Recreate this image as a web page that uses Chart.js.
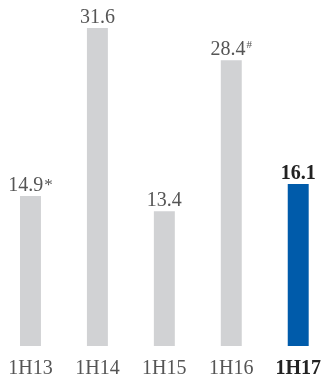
<!DOCTYPE html>
<html>
<head>
<meta charset="utf-8">
<script src="https://cdn.jsdelivr.net/npm/chart.js@4/dist/chart.umd.min.js"></script>
<style>
  html, body { margin: 0; padding: 0; background: #fff; overflow: hidden; }
  #wrap { position: relative; width: 335px; height: 377px; margin-left: -3px; }
</style>
</head>
<body>
<div id="wrap"><canvas id="myChart"></canvas></div>
<script>
const periods = ['1H13', '1H14', '1H15', '1H16', '1H17']
const values = [14.9, 31.6, 13.4, 28.4, 16.1]
const notes = ['*', '', '', '#', '']
const barColors = ['#d1d2d4', '#d1d2d4', '#d1d2d4', '#d1d2d4', '#005baa']
const FONT = '"Liberation Serif", serif'
const last = periods.length - 1

// value labels above bars, with the footnote marks
const valueLabels = {
  id: 'valueLabels',
  afterDatasetsDraw(chart) {
    const c = chart.ctx
    const meta = chart.getDatasetMeta(0)
    meta.data.forEach((bar, i) => {
      const bold = i === last
      const main = values[i].toFixed(1)
      c.save()
      c.textBaseline = 'alphabetic'
      c.fillStyle = bold ? '#222' : '#555'
      c.font = (bold ? 'bold ' : '') + '20px ' + FONT
      const w1 = c.measureText(main).width
      let w2 = 0
      const sup = notes[i] === '#'
      const noteFont = (sup ? '11px ' : '17px ') + FONT
      if (notes[i]) {
        c.font = noteFont
        w2 = c.measureText(notes[i]).width + 1
      }
      const x0 = bar.x - (w1 + w2) / 2
      const y = bar.y - 5
      c.font = (bold ? 'bold ' : '') + '20px ' + FONT
      c.textAlign = 'left'
      c.fillText(main, x0, y)
      if (notes[i]) {
        c.font = noteFont
        c.fillText(notes[i], x0 + w1 + 1, sup ? y - 7 : y - 1)
      }
      c.restore()
    })
  }
}

new Chart(document.getElementById('myChart'), {
  type: 'bar',
  data: {
    labels: periods,
    datasets: [{
      data: values,
      backgroundColor: barColors,
      borderWidth: 0,
      barPercentage: 0.313,
      categoryPercentage: 1
    }]
  },
  options: {
    responsive: true,
    maintainAspectRatio: false,
    animation: false,
    layout: { padding: 0 },
    scales: {
      x: {
        grid: { display: false, drawTicks: false },
        border: { display: false },
        ticks: {
          padding: 11,
          color: ctx => ctx.index === last ? '#222' : '#555',
          font: ctx => ({ family: FONT, size: 20, weight: ctx.index === last ? 'bold' : 'normal' })
        },
        afterFit: scale => { scale.height = 31 }
      },
      y: {
        display: false,
        min: 0,
        max: 34.38
      }
    },
    plugins: {
      legend: { display: false },
      tooltip: { enabled: false }
    }
  },
  plugins: [valueLabels]
})
</script>
</body>
</html>
